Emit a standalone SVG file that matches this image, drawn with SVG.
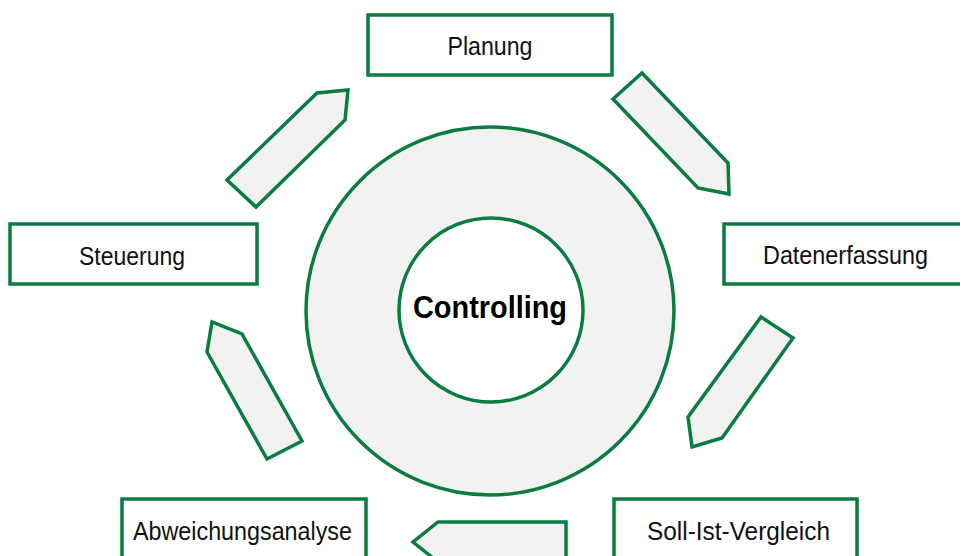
<svg xmlns="http://www.w3.org/2000/svg" width="960" height="556" viewBox="0 0 960 556">
  <defs>
    <style>
      .box { fill: #ffffff; stroke: #0a7c42; stroke-width: 3.5; }
      .arrow { fill: #f2f2f2; stroke: #0a7c42; stroke-width: 3.5; stroke-linejoin: miter; }
      .ring { fill: #f2f2f2; stroke: #0a7c42; stroke-width: 3.5; }
      .hub { fill: #ffffff; stroke: #0a7c42; stroke-width: 3.5; }
      .label { font-family: "Liberation Sans", Arial, sans-serif; font-size: 25px; fill: #111111; text-anchor: middle; }
      .title { font-family: "Liberation Sans", Arial, sans-serif; font-size: 31px; font-weight: bold; fill: #000000; text-anchor: middle; }
    </style>
  </defs>
  <rect width="960" height="556" fill="#ffffff"/>

  <!-- central ring -->
  <g id="controlling">
    <circle class="ring" cx="490" cy="311" r="184"/>
    <circle class="hub" cx="491" cy="310" r="92"/>
    <text class="title" x="490" y="318" textLength="154" lengthAdjust="spacingAndGlyphs">Controlling</text>
  </g>

  <!-- cycle arrows -->
  <g id="connectors">
    <polygon class="arrow" points="613,99 642,73 728,163 729,194 698,188"/>
    <polygon class="arrow" points="761,317 793,338 722,438 692,447 688,417"/>
    <polygon class="arrow" points="566,522 438,522 413,542 438,562 566,562"/>
    <polygon class="arrow" points="267,459 302,441 242,334 212,322 207,352"/>
    <polygon class="arrow" points="227,180 256,207 345,120 348,90 317,93"/>
  </g>

  <g id="planung">
    <rect class="box" x="368" y="15" width="244" height="60"/>
    <text class="label" x="490" y="55" textLength="85" lengthAdjust="spacingAndGlyphs">Planung</text>
  </g>

  <g id="datenerfassung">
    <rect class="box" x="724" y="224" width="246" height="60"/>
    <text class="label" x="845.5" y="264" textLength="165" lengthAdjust="spacingAndGlyphs">Datenerfassung</text>
  </g>

  <g id="soll-ist-vergleich">
    <rect class="box" x="614" y="499" width="243" height="60"/>
    <text class="label" x="738.5" y="540" textLength="183" lengthAdjust="spacingAndGlyphs">Soll-Ist-Vergleich</text>
  </g>

  <g id="abweichungsanalyse">
    <rect class="box" x="122" y="499" width="244" height="60"/>
    <text class="label" x="242.5" y="540" textLength="219" lengthAdjust="spacingAndGlyphs">Abweichungsanalyse</text>
  </g>

  <g id="steuerung">
    <rect class="box" x="10" y="224" width="247" height="60"/>
    <text class="label" x="132" y="265" textLength="106" lengthAdjust="spacingAndGlyphs">Steuerung</text>
  </g>
</svg>
